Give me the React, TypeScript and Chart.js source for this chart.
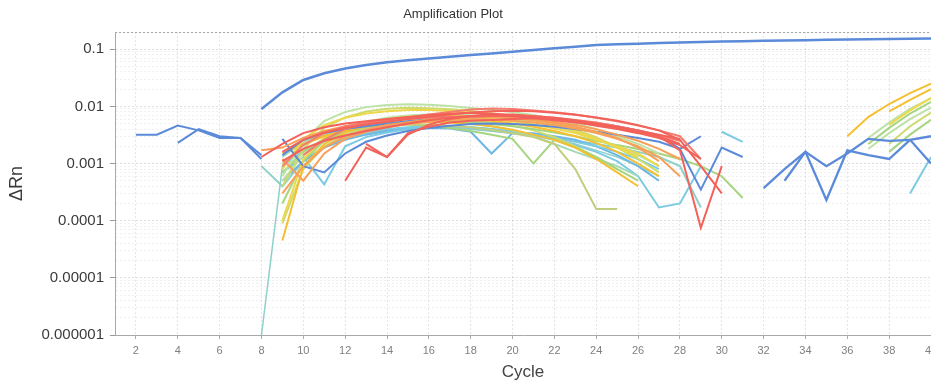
import React, { useEffect, useRef } from "react";
import { Chart, registerables } from "chart.js";

Chart.register(...registerables);

// ---------- axis data ----------
const TITLE = "Amplification Plot";
const X_TITLE = "Cycle";
const Y_TITLE = "ΔRn";
const X_MIN = 1;
const X_MAX = 40;
const X_TICKS = [2, 4, 6, 8, 10, 12, 14, 16, 18, 20, 22, 24, 26, 28, 30, 32, 34, 36, 38, 40];
const Y_MIN = 0.000001;
const Y_MAX = 0.2;
const Y_MAJOR = [0.000001, 0.00001, 0.0001, 0.001, 0.01, 0.1];
const Y_TICK_LABELS = ["0.000001", "0.00001", "0.0001", "0.001", "0.01", "0.1"];

// ---------- series (start cycle + values) ----------
const TOP = [0.009, 0.0176, 0.029, 0.038, 0.046, 0.053, 0.059, 0.064, 0.069, 0.074, 0.079, 0.084, 0.09, 0.097, 0.104, 0.11, 0.118, 0.122, 0.125, 0.128, 0.131, 0.134, 0.136, 0.138, 0.14, 0.142, 0.144, 0.146, 0.148, 0.15, 0.151, 0.153, 0.154];
const L1 = [0.0032, 0.0032, 0.0046, 0.0038, 0.0028, 0.0028, 0.0012];
const L2 = [0.0023, 0.004, 0.003, 0.0028, 0.0014];

const R1 = [0.0013, 0.0022, 0.0034, 0.0043, 0.005, 0.0055, 0.006, 0.0065, 0.007, 0.0074, 0.0077, 0.0074, 0.007, 0.0067, 0.0063, 0.0057, 0.005, 0.0044, 0.0038, 0.0032, 0.0027];
const R2 = [0.0005, 0.0019, 0.0013, 0.0032, 0.0048, 0.006, 0.0068, 0.0073, 0.0071, 0.0066, 0.006, 0.0053, 0.0046, 0.004, 0.0034, 0.0028, 0.0021, 0.0012];
const R3 = [0.0011, 0.0018, 0.0025, 0.0031, 0.0037, 0.0043, 0.005, 0.0057, 0.0063, 0.0068, 0.0069, 0.0067, 0.0064, 0.006, 0.0055, 0.0049, 0.0043, 0.0036, 0.003, 0.0017, 0.000075, 0.0009];
const R4 = [0.0016, 0.0026, 0.0035, 0.0042, 0.0048, 0.0054, 0.006, 0.0066, 0.0072, 0.0078, 0.0082, 0.0084, 0.0082, 0.0077, 0.0071, 0.0064, 0.0056, 0.0047, 0.0038, 0.0026, 0.0009, 0.0003];
const R5 = [0.0014, 0.0026, 0.004, 0.005, 0.0058, 0.0064, 0.0072, 0.008, 0.0088, 0.0092, 0.009, 0.0085, 0.0079, 0.0072, 0.0063, 0.0055, 0.0046, 0.0038, 0.003, 0.0012];
const R6 = [0.0009, 0.0021, 0.0034, 0.0045, 0.0052, 0.0057, 0.0061, 0.0064, 0.0066, 0.0065, 0.0068, 0.0072, 0.0068, 0.0063, 0.0058, 0.0052, 0.0045, 0.0038, 0.0031, 0.0025];
const R7 = [0.0022, 0.0013, 0.0034, 0.0044, 0.0052, 0.0056, 0.0058, 0.006, 0.0062, 0.0057, 0.0052, 0.0047, 0.0041, 0.0036, 0.003, 0.0022];

const O1 = [0.0017, 0.0019, 0.0028, 0.0037, 0.0045, 0.0051, 0.0056, 0.006, 0.0063, 0.0066, 0.0068, 0.0066, 0.0063, 0.0059, 0.0054, 0.0047, 0.004, 0.0032, 0.0025, 0.0018, 0.0012];
const O2 = [0.0012, 0.0005, 0.0015, 0.0027, 0.0036, 0.0043, 0.0049, 0.0054, 0.0058, 0.006, 0.0059, 0.0056, 0.0052, 0.0047, 0.0041, 0.0034, 0.0027, 0.002, 0.0013, 0.0006];
const O3 = [0.0003, 0.0009, 0.0019, 0.003, 0.0039, 0.0047, 0.0053, 0.0059, 0.0064, 0.0066, 0.0065, 0.0062, 0.0057, 0.0051, 0.0044, 0.0036, 0.0028, 0.0019, 0.0011];

const Y1 = [0.000045, 0.0009, 0.0022, 0.0035, 0.0046, 0.0055, 0.0061, 0.0064, 0.0064, 0.0061, 0.0056, 0.005, 0.0044, 0.0037, 0.003, 0.0023, 0.0016, 0.001, 0.0006];
const Y2 = [0.0008, 0.0027, 0.0047, 0.0063, 0.0075, 0.0082, 0.0086, 0.0086, 0.0083, 0.0078, 0.0072, 0.0065, 0.0057, 0.0048, 0.0037, 0.0027, 0.0019, 0.0013];
const Y3 = [0.0015, 0.0022, 0.003, 0.0038, 0.0045, 0.005, 0.0053, 0.0054, 0.0052, 0.0049, 0.0045, 0.0039, 0.0032, 0.0026, 0.0019, 0.0012, 0.0007, 0.0004];
const Y4 = [0.0001, 0.0012, 0.0028, 0.0042, 0.0052, 0.006, 0.0066, 0.0069, 0.0069, 0.0066, 0.0061, 0.0055, 0.0048, 0.0041, 0.0034, 0.0026, 0.002, 0.0015, 0.0009];

const G1 = [0.0006, 0.0025, 0.0055, 0.008, 0.0097, 0.0106, 0.0109, 0.0107, 0.0101, 0.0094, 0.0087, 0.0079, 0.0071, 0.0061, 0.005, 0.004, 0.003, 0.0022, 0.0015];
const G2 = [0.0004, 0.0018, 0.0042, 0.0064, 0.0081, 0.0091, 0.0095, 0.0093, 0.0089, 0.0083, 0.0076, 0.0068, 0.006, 0.005, 0.0039, 0.0029, 0.0019, 0.0012, 0.0007];
const G3 = [0.001, 0.0021, 0.0031, 0.0038, 0.0043, 0.0046, 0.0048, 0.0048, 0.0046, 0.0043, 0.0039, 0.0034, 0.0029, 0.0022, 0.0008, 0.00016, 0.00016];
const G4 = [0.0002, 0.0011, 0.0025, 0.0036, 0.0043, 0.0047, 0.0048, 0.0046, 0.0042, 0.0037, 0.0032, 0.0027, 0.001, 0.0026, 0.0019, 0.0013, 0.0008, 0.0005];
const G5 = [0.0007, 0.0016, 0.0027, 0.0036, 0.0043, 0.0048, 0.0052, 0.0054, 0.0054, 0.0052, 0.0049, 0.0045, 0.004, 0.0035, 0.003, 0.0025, 0.0021, 0.0018, 0.0015, 0.0012, 0.0009, 0.0006, 0.00025];
const G6 = [0.0005, 0.0014, 0.0028, 0.0042, 0.0054, 0.0063, 0.0069, 0.0072, 0.0072, 0.007, 0.0066, 0.006, 0.0053, 0.0045, 0.0036, 0.0028, 0.002, 0.0014, 0.0009];
const G7 = [0.0013, 0.0024, 0.0034, 0.0042, 0.0048, 0.0052, 0.0055, 0.0056, 0.0055, 0.0051, 0.0045, 0.0038, 0.003, 0.0022, 0.0016, 0.0012, 0.0009, 0.0006];
const G8 = [0.00009, 0.0008, 0.002, 0.0032, 0.0042, 0.0049, 0.0054, 0.0057, 0.0058, 0.0056, 0.0052, 0.0046, 0.0038, 0.0029, 0.002, 0.0013, 0.0008];

const C1 = [0.0007, 0.0013, 0.00043, 0.002, 0.0029, 0.0035, 0.004, 0.0044, 0.0045, 0.0043, 0.004, 0.0036, 0.0032, 0.0028, 0.0024, 0.002, 0.0016, 0.0012, 0.0008];
const C2 = [0.0005, 0.0011, 0.0019, 0.0026, 0.0032, 0.0037, 0.004, 0.0042, 0.0041, 0.0036, 0.0015, 0.0034, 0.0034, 0.003, 0.0026, 0.002, 0.0014, 0.0009, 0.0005];
const C3 = [0.0009, 0.0017, 0.0025, 0.0031, 0.0036, 0.004, 0.0043, 0.0045, 0.0045, 0.0043, 0.004, 0.0036, 0.0031, 0.0026, 0.0021, 0.0016, 0.0011, 0.0006, 0.00017, 0.0002, 0.0009];
const C4 = [0.0036, 0.0024];
const C5 = [0.000001, 0.0009, 0.0017, 0.0024, 0.003, 0.0035, 0.0039, 0.0042, 0.0044, 0.0044, 0.0042, 0.0039, 0.0035, 0.0031, 0.0027, 0.0022, 0.0017, 0.0013, 0.0009, 0.0006];
const C6 = [0.0009, 0.0004, 0.0011, 0.002, 0.0028, 0.0034, 0.0039, 0.0042, 0.0043, 0.0042, 0.004, 0.0037, 0.0034, 0.0031, 0.0028, 0.0025, 0.0022, 0.0019, 0.0016, 0.0013, 0.0009, 0.00017];

const B1 = [0.0027, 0.0009, 0.0007, 0.0015, 0.0024, 0.0031, 0.0037, 0.0042, 0.0046, 0.0049, 0.005, 0.0049, 0.0047, 0.0044, 0.004, 0.0036, 0.0032, 0.0028, 0.0024, 0.0018, 0.003];
const B2 = [0.0014, 0.0026, 0.0034, 0.004, 0.0045, 0.005, 0.0055, 0.006, 0.0064, 0.0066, 0.0067, 0.0066, 0.0064, 0.006, 0.0056, 0.0051, 0.0045, 0.0038, 0.0031, 0.0018, 0.00035, 0.0019, 0.0013];
const B3 = [0.00037, 0.0008, 0.0016, 0.00023, 0.0017, 0.0014, 0.0012, 0.0026, 0.003];
const B4 = [0.0005, 0.0016, 0.0009, 0.0015, 0.0027, 0.0025, 0.0026, 0.001];

const LY1 = [0.003, 0.0065, 0.011, 0.017, 0.025];
const LY2 = [0.0082, 0.013, 0.02];
const LY3 = [0.0048, 0.0085, 0.014];
const LG1 = [0.0022, 0.0042, 0.0075, 0.012];
const LG2 = [0.0018, 0.0034, 0.006, 0.0095];
const LG3 = [0.0022, 0.0045, 0.0078];
const LG4 = [0.0028, 0.0052, 0.009, 0.014];
const LG5 = [0.0016, 0.0032, 0.0058];
const LC = [0.0003, 0.0013];

// ---------- styles ----------
const COL = {
  blue: "#5b8ad9",
  red: "#f2625a",
  salmon: "#f47c6c",
  orange: "#f7a05a",
  gold: "#f4bf30",
  yellow: "#ecd84a",
  ygreen: "#cddb6c",
  green: "#a6d57f",
  pale: "#bde2a6",
  mint: "#a2d9bb",
  olive: "#c2cd7e",
  cyan: "#7ccbe2",
  lblue: "#6db6e6",
  teal: "#8fd0c8",
};

type S = { start: number; values: number[]; color: string; width?: number };
const SERIES: S[] = [
  { start: 8, values: TOP, color: COL.blue, width: 2.5 },
  { start: 2, values: L1, color: COL.blue, width: 2 },
  { start: 4, values: L2, color: COL.blue, width: 2 },
  { start: 32, values: B3, color: COL.blue, width: 2.3 },
  { start: 33, values: B4, color: COL.blue, width: 2.3 },
  { start: 8, values: R1, color: COL.red },
  { start: 12, values: R2, color: COL.red },
  { start: 9, values: R3, color: COL.red },
  { start: 9, values: R4, color: COL.red },
  { start: 10, values: R5, color: COL.salmon },
  { start: 9, values: R6, color: COL.salmon },
  { start: 13, values: R7, color: COL.red },
  { start: 8, values: O1, color: COL.orange },
  { start: 9, values: O2, color: COL.orange },
  { start: 9, values: O3, color: COL.orange },
  { start: 9, values: B1, color: COL.blue },
  { start: 9, values: B2, color: COL.blue },
  { start: 9, values: Y1, color: COL.gold },
  { start: 9, values: Y2, color: COL.yellow },
  { start: 9, values: Y3, color: COL.gold },
  { start: 9, values: Y4, color: COL.yellow },
  { start: 9, values: G1, color: COL.pale },
  { start: 9, values: G2, color: COL.ygreen },
  { start: 9, values: G3, color: COL.olive },
  { start: 9, values: G4, color: COL.green },
  { start: 9, values: G5, color: COL.green },
  { start: 9, values: G6, color: COL.pale },
  { start: 9, values: G7, color: COL.mint },
  { start: 9, values: G8, color: COL.ygreen },
  { start: 9, values: C1, color: COL.cyan },
  { start: 9, values: C2, color: COL.lblue },
  { start: 9, values: C3, color: COL.cyan },
  { start: 30, values: C4, color: COL.cyan },
  { start: 8, values: C5, color: COL.teal, width: 1.5 },
  { start: 8, values: C6, color: COL.teal },
  { start: 36, values: LY1, color: COL.gold },
  { start: 38, values: LY2, color: COL.gold },
  { start: 38, values: LY3, color: COL.yellow },
  { start: 37, values: LG1, color: COL.green },
  { start: 37, values: LG2, color: COL.pale },
  { start: 38, values: LG3, color: COL.ygreen },
  { start: 37, values: LG4, color: COL.pale },
  { start: 38, values: LG5, color: COL.green },
  { start: 39, values: LC, color: COL.cyan },
];

const FONT = '"Liberation Sans", Arial, Helvetica, sans-serif';

const isMajor = (v: number) => Y_MAJOR.some((m) => Math.abs(v - m) / m < 1e-6);

const titlePlugin = {
  id: "plotTitle",
  afterDraw(chart: any) {
    const { ctx, chartArea } = chart;
    ctx.save();
    // top frame line
    ctx.strokeStyle = "#a8a8a8";
    ctx.lineWidth = 1;
    ctx.setLineDash([2, 2]);
    ctx.beginPath();
    ctx.moveTo(chartArea.left, chartArea.top + 0.5);
    ctx.lineTo(chartArea.right, chartArea.top + 0.5);
    ctx.stroke();
    ctx.setLineDash([]);
    ctx.font = "13px " + FONT;
    ctx.fillStyle = "#333";
    ctx.textAlign = "center";
    ctx.textBaseline = "middle";
    ctx.fillText(TITLE, 453, 14);
    ctx.restore();
  },
};

export default function App() {
  const ref = useRef<HTMLCanvasElement | null>(null);
  useEffect(() => {
    if (!ref.current) return;
    const datasets = SERIES.map((s) => ({
      data: s.values.map((v, i) => ({ x: s.start + i, y: v })),
      borderColor: s.color,
      borderWidth: s.width ?? 2,
      pointRadius: 0,
      tension: 0,
      fill: false,
    }));
    const yTicks: { value: number; major: boolean }[] = [];
    Y_MAJOR.forEach((d) => {
      for (let m = 1; m <= 9; m++) {
        const v = m * d;
        if (v <= Y_MAX * 1.0001) yTicks.push({ value: v, major: m === 1 });
      }
    });
    const chart = new Chart(ref.current, {
      type: "line",
      data: { datasets },
      plugins: [titlePlugin],
      options: {
        responsive: false,
        animation: false,
        devicePixelRatio: 1,
        layout: { padding: { top: 32, right: 30, bottom: 0, left: 0 } },
        plugins: { legend: { display: false }, tooltip: { enabled: false }, title: { display: false } },
        scales: {
          x: {
            type: "linear",
            min: X_MIN,
            max: X_MAX,
            afterBuildTicks: (s: any) => {
              s.ticks = X_TICKS.map((v) => ({ value: v }));
            },
            afterFit: (s: any) => {
              s.height = 48;
            },
            ticks: {
              autoSkip: false,
              maxRotation: 0,
              padding: 5,
              color: "#808080",
              font: { family: FONT, size: 11 },
              callback: (v: any) => String(v),
            },
            grid: { color: "rgba(0,0,0,0.10)", tickLength: 4, tickColor: "#aaa" },
            border: { color: "#a8a8a8", dash: [2, 2] },
            title: {
              display: true,
              text: X_TITLE,
              color: "#444",
              font: { family: FONT, size: 17 },
              padding: { top: 0, bottom: 0 },
            },
          },
          y: {
            type: "logarithmic",
            min: Y_MIN,
            max: Y_MAX,
            afterBuildTicks: (s: any) => {
              s.ticks = yTicks.map((t) => ({ value: t.value, major: t.major }));
            },
            afterFit: (s: any) => {
              s.width = 115;
            },
            ticks: {
              autoSkip: false,
              padding: 6,
              color: "#3a3a3a",
              font: { family: FONT, size: 15 },
              callback: (v: any) => {
                const idx = Y_MAJOR.findIndex((m) => Math.abs(v - m) / m < 1e-6);
                return idx >= 0 ? Y_TICK_LABELS[idx] : "";
              },
            },
            grid: {
              color: (ctx: any) =>
                ctx.tick && isMajor(ctx.tick.value) ? "rgba(0,0,0,0.13)" : "rgba(0,0,0,0.06)",
              tickColor: (ctx: any) => (ctx.tick && isMajor(ctx.tick.value) ? "#999" : "rgba(0,0,0,0)"),
              tickLength: 5,
            },
            border: { color: "#a8a8a8", dash: [2, 2] },
            title: {
              display: true,
              text: Y_TITLE,
              color: "#3a3a3a",
              font: { family: FONT, size: 18 },
              padding: { top: 6, bottom: 0 },
            },
          },
        },
      } as any,
    });
    return () => chart.destroy();
  }, []);
  return (
    <div
      style={{
        position: "fixed",
        left: 0,
        top: 0,
        width: 931,
        height: 383,
        overflow: "hidden",
        background: "#fff",
      }}
    >
      <canvas ref={ref} width={961} height={383} style={{ display: "block", width: 961, height: 383 }} />
    </div>
  );
}
